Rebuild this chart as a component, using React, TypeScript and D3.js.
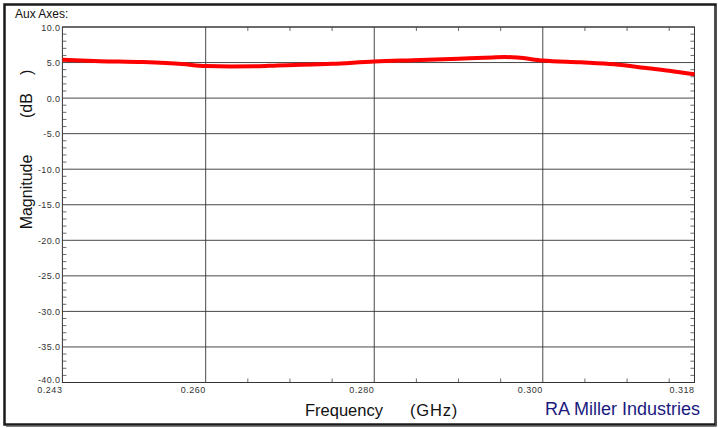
import React from "react";
import * as d3 from "d3";

const freqs = [0.243, 0.2475, 0.2525, 0.2572, 0.26, 0.263, 0.266, 0.2685, 0.275, 0.28, 0.2855, 0.29, 0.294, 0.2955, 0.297, 0.3, 0.3045, 0.3085, 0.3125, 0.315, 0.318];
const mags = [5.38, 5.2, 5.07, 4.8, 4.5, 4.45, 4.48, 4.6, 4.83, 5.15, 5.35, 5.55, 5.72, 5.77, 5.7, 5.28, 5.03, 4.75, 4.2, 3.85, 3.35];
const yTicks = [10, 5, 0, -5, -10, -15, -20, -25, -30, -35, -40];
const xLabels = [0.243, 0.26, 0.28, 0.3, 0.318];
const xGrid = [0.26, 0.28, 0.3];
const xMinor = [0.265, 0.27, 0.275, 0.285, 0.29, 0.295, 0.305, 0.31, 0.315];

export default function App() {
  const W = 718, H = 428;
  const L = 62.4, R = 694.5, T = 27, B = 382.5;
  const x = d3.scaleLinear().domain([0.243, 0.318]).range([L, R]);
  const y = d3.scaleLinear().domain([-40, 10]).range([B, T]);
  const line = d3.line<number>().x((_, i) => x(freqs[i])).y((d) => y(d)).curve(d3.curveMonotoneX);
  const yMinor = d3.range(-39, 10, 1).filter((v) => v % 5 !== 0);
  const f = "Liberation Sans, Arial, sans-serif";
  return (
    <svg width={W} height={H} style={{ position: "absolute", left: 0, top: 0 }}>
      <rect x={0} y={0} width={W} height={H} fill="#fff" />
      <rect x={4.5} y={4.5} width={711} height={420} fill="none" stroke="#1a1a1a" strokeWidth={2.5} />
      <line x1={716} x2={716} y1={6} y2={426} stroke="#555" strokeWidth={1.5} />
      <line x1={6} x2={716.5} y1={426} y2={426} stroke="#555" strokeWidth={1.5} />
      <text x={15} y={17.5} fontFamily={f} fontSize={12} fill="#111">Aux Axes:</text>
      {yTicks.map((v) => (
        <line key={"hg" + v} x1={L} x2={R} y1={y(v)} y2={y(v)} stroke="#333" strokeWidth={0.9} />
      ))}
      {xGrid.map((v) => (
        <line key={"vg" + v} x1={x(v)} x2={x(v)} y1={T} y2={B} stroke="#333" strokeWidth={0.9} />
      ))}
      <rect x={L} y={T} width={R - L} height={B - T} fill="none" stroke="#333" strokeWidth={1} />
      {yMinor.map((v) => (
        <g key={"ym" + v}>
          <line x1={L} x2={L + 4} y1={y(v)} y2={y(v)} stroke="#444" strokeWidth={0.8} />
          <line x1={R - 4} x2={R} y1={y(v)} y2={y(v)} stroke="#444" strokeWidth={0.8} />
        </g>
      ))}
      {xMinor.map((v) => (
        <g key={"xm" + v}>
          <line x1={x(v)} x2={x(v)} y1={B} y2={B - 4} stroke="#444" strokeWidth={0.8} />
          <line x1={x(v)} x2={x(v)} y1={T} y2={T + 4} stroke="#444" strokeWidth={0.8} />
        </g>
      ))}
      {yTicks.map((v) => (
        <text key={"yl" + v} x={L - 2} y={y(v) + (v === -40 ? 0 : 3.5)} textAnchor="end" fontFamily={f} fontSize={9} letterSpacing={0.4} fill="#333">
          {v.toFixed(1)}
        </text>
      ))}
      {xLabels.map((v) => (
        <text key={"xl" + v} x={x(v)} y={B + 10} textAnchor="end" fontFamily={f} fontSize={9} letterSpacing={0.5} fill="#333">
          {v.toFixed(3)}
        </text>
      ))}
      <path d={line(mags) || ""} fill="none" stroke="#ff0000" strokeWidth={4} strokeLinejoin="round" />
      <text x={305} y={416} fontFamily={f} fontSize={16.5} fill="#111">Frequency</text>
      <text x={410} y={416} fontFamily={f} fontSize={16.5} letterSpacing={0.8} fill="#111">(GHz)</text>
      <text x={545} y={414.5} fontFamily={f} fontSize={18} fill="#1a1a80">RA Miller Industries</text>
      <text transform={`translate(32,192) rotate(-90)`} textAnchor="middle" fontFamily={f} fontSize={16} fill="#111">Magnitude</text>
      <text transform={`translate(32,118) rotate(-90)`} textAnchor="start" fontFamily={f} fontSize={16} fill="#111">(dB</text>
      <text transform={`translate(32,75) rotate(-90)`} textAnchor="start" fontFamily={f} fontSize={16} fill="#111">)</text>
    </svg>
  );
}
